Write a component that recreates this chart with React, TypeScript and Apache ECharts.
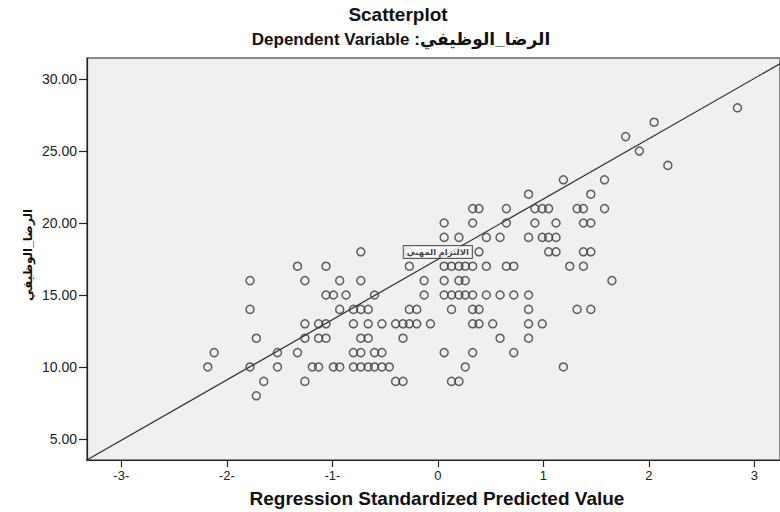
import React, { useEffect, useRef } from "react";
import * as echarts from "echarts";

// Dependent variable values (الرضا_الوظيفي) observed in the plot
const satisfactionLevels = [28, 27, 26, 25, 24, 23, 22, 21, 20, 19, 18, 17, 16, 15, 14, 13, 12, 11, 10, 9, 8];

// Regression standardized predicted values, one list per satisfaction level
const predictedByLevel = [
  [2.84],
  [2.05],
  [1.78],
  [1.91],
  [2.18],
  [1.19, 1.58],
  [0.86, 1.45],
  [0.33, 0.39, 0.65, 0.92, 0.99, 1.05, 1.32, 1.38, 1.58],
  [0.06, 0.33, 0.65, 0.92, 1.12, 1.38, 1.45],
  [0.06, 0.2, 0.46, 0.59, 0.86, 0.99, 1.05, 1.12],
  [-0.73, -0.28, 0.39, 1.05, 1.12, 1.38, 1.45],
  [-1.33, -1.06, -0.27, 0.06, 0.13, 0.2, 0.26, 0.33, 0.46, 0.65, 0.72, 1.25, 1.38],
  [-1.78, -1.26, -0.93, -0.73, -0.13, 0.06, 0.2, 0.26, 1.65],
  [-1.06, -0.99, -0.87, -0.6, -0.13, 0.06, 0.13, 0.2, 0.26, 0.33, 0.46, 0.59, 0.72, 0.86],
  [-1.78, -0.93, -0.8, -0.73, -0.66, -0.27, -0.2, 0.13, 0.33, 0.39, 0.86, 1.32, 1.45],
  [-1.26, -1.13, -1.06, -0.8, -0.66, -0.53, -0.4, -0.33, -0.27, -0.2, -0.07, 0.33, 0.39, 0.52, 0.86, 0.99],
  [-1.72, -1.26, -1.13, -1.06, -0.73, -0.66, -0.33, 0.59, 0.86],
  [-2.12, -1.52, -1.33, -0.8, -0.73, -0.6, -0.53, 0.06, 0.33, 0.72],
  [-2.18, -1.78, -1.52, -1.19, -1.13, -0.99, -0.93, -0.8, -0.73, -0.66, -0.6, -0.53, -0.46, 0.26, 1.19],
  [-1.65, -1.26, -0.4, -0.33, 0.13, 0.2],
  [-1.72],
];

// Fit line end points [predicted, satisfaction]
const fitLineX = [-3.4, 3.4];
const fitLineY = [3.23, 31.72];

// Fit line label
const fitLabelText = "الالتزام المهني";
const fitLabelPoint = [0.0, 17.99];

// Axis ticks
const xTickValues = [-3, -2, -1, 0, 1, 2, 3];
const xTickLabels = ["-3-", "-2-", "-1-", "0", "1", "2", "3"];
const yTickValues = [5, 10, 15, 20, 25, 30];

const titleText = "Scatterplot";
const subtitleText = "Dependent Variable :الرضا_الوظيفي";
const xAxisTitle = "Regression Standardized Predicted Value";
const yAxisTitle = "الرضا_الوظيفي";

const FONT = "'Liberation Sans', Arial, 'DejaVu Sans', sans-serif";

export default function App() {
  const ref = useRef<HTMLDivElement>(null);

  useEffect(() => {
    if (!ref.current) return;
    const chart = echarts.init(ref.current, undefined, { renderer: "svg" });

    const points: number[][] = [];
    satisfactionLevels.forEach((lvl, i) => {
      predictedByLevel[i].forEach((z) => points.push([z, lvl]));
    });

    const option: any = {
      animation: false,
      backgroundColor: "#ffffff",
      textStyle: { fontFamily: FONT },
      grid: {
        left: 87,
        top: 58,
        right: 0,
        bottom: 52,
        show: true,
        backgroundColor: "#f0f0f0",
        borderColor: "#666666",
        borderWidth: 1.5,
      },
      xAxis: {
        type: "value",
        min: -3.325,
        max: 3.243,
        axisLine: { show: true, onZero: false, lineStyle: { color: "#222", width: 1.2 } },
        axisTick: {
          show: true,
          length: 7,
          customValues: xTickValues,
          lineStyle: { color: "#222", width: 1.2 },
        },
        axisLabel: {
          customValues: xTickValues,
          color: "#222",
          fontSize: 13,
          fontFamily: FONT,
          margin: 9,
          formatter: (v: number) => xTickLabels[xTickValues.indexOf(Math.round(v))] ?? "",
        },
        splitLine: { show: false },
      },
      yAxis: {
        type: "value",
        min: 3.54,
        max: 31.46,
        axisLine: { show: true, onZero: false, lineStyle: { color: "#222", width: 1.2 } },
        axisTick: {
          show: true,
          length: 8,
          customValues: yTickValues,
          lineStyle: { color: "#222", width: 1.2 },
        },
        axisLabel: {
          customValues: yTickValues,
          color: "#222",
          fontSize: 14,
          fontFamily: FONT,
          margin: 10,
          formatter: (v: number) => v.toFixed(2),
        },
        splitLine: { show: false },
      },
      series: [
        {
          type: "line",
          data: fitLineX.map((x, i) => [x, fitLineY[i]]),
          symbol: "none",
          clip: true,
          lineStyle: { color: "#333", width: 1.2 },
          silent: true,
          z: 1,
        },
        {
          type: "scatter",
          data: points,
          symbol: "circle",
          symbolSize: 8,
          itemStyle: { color: "rgba(0,0,0,0)", borderColor: "#3a3a3a", borderWidth: 1.5 },
          z: 2,
        },
        {
          type: "scatter",
          data: [fitLabelPoint],
          symbolSize: 0,
          z: 5,
          label: {
            show: true,
            position: "inside",
            formatter: fitLabelText,
            fontSize: 8.5,
            fontWeight: "bold",
            color: "#111",
            backgroundColor: "#ffffff",
            borderColor: "#333",
            borderWidth: 1,
            padding: [2, 3, 1, 3],
            fontFamily: "Arial, 'DejaVu Sans', sans-serif",
          },
        },
      ],
      graphic: [
        {
          type: "text",
          x: 398,
          y: 14,
          style: {
            text: titleText,
            font: `bold 19px ${FONT}`,
            fill: "#111",
            textAlign: "center",
            textVerticalAlign: "middle",
          },
        },
        {
          type: "text",
          x: 401,
          y: 39,
          style: {
            text: subtitleText,
            font: `bold 17px ${FONT}`,
            fill: "#111",
            textAlign: "center",
            textVerticalAlign: "middle",
          },
        },
        {
          type: "text",
          x: 437,
          y: 498,
          style: {
            text: xAxisTitle,
            font: `bold 19px ${FONT}`,
            fill: "#111",
            textAlign: "center",
            textVerticalAlign: "middle",
          },
        },
        {
          type: "text",
          x: 28,
          y: 255,
          rotation: Math.PI / 2,
          style: {
            text: yAxisTitle,
            font: `bold 12px ${FONT}`,
            fill: "#111",
            textAlign: "center",
            textVerticalAlign: "middle",
          },
        },
      ],
    };

    chart.setOption(option);
    return () => chart.dispose();
  }, []);

  return (
    <div
      ref={ref}
      style={{ position: "absolute", left: 0, top: 0, width: 780, height: 512, background: "#fff" }}
    />
  );
}
